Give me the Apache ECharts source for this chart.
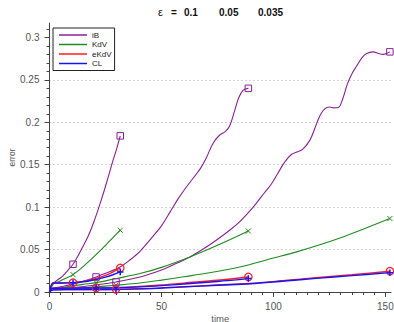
<!DOCTYPE html>
<html>
<head>
<meta charset="utf-8">
<script src="https://cdn.jsdelivr.net/npm/echarts@6/dist/echarts.min.js"></script>
<style>
  html, body { margin: 0; padding: 0; background: #fff; }
  #chart { width: 394px; height: 322px; }
</style>
</head>
<body>
<div id="chart"></div>
<script>
// Error vs. time for three values of epsilon (0.1, 0.05, 0.035), four models each.
// Each curve is a list of [time, error] samples.

// epsilon = 0.1
const iB_e010 = [[0,0],[0.5,0.003],[1.7,0.010],[4,0.015],[6,0.019],[8,0.025],[10.5,0.0327],[13,0.044],[15,0.054],[17.3,0.066],[20,0.084],[23.3,0.110],[25.5,0.129],[27.8,0.150],[30,0.169],[31.6,0.184]];
const KdV_e010 = [[0,0],[1.7,0.0095],[4,0.012],[7,0.016],[10.5,0.0205],[15,0.030],[20,0.042],[25,0.055],[31.6,0.0728]];
const eKdV_e010 = [[0,0],[1.7,0.0106],[5,0.0106],[10.5,0.011],[15,0.0125],[20.8,0.016],[25,0.0197],[28,0.0232],[31.6,0.0283]];
const CL_e010 = [[0,0],[1.7,0.0106],[5,0.0106],[10.5,0.011],[15,0.012],[20.8,0.0148],[25,0.0175],[28,0.020],[31.6,0.0236]];

// epsilon = 0.05
const iB_e005 = [[0,0],[1.5,0.004],[5,0.006],[10,0.009],[15,0.0125],[20.8,0.0177],[25,0.022],[31.5,0.0295],[36,0.038],[40.4,0.048],[46,0.065],[50,0.078],[54,0.095],[57.5,0.110],[61.2,0.124],[65,0.137],[67.5,0.146],[70,0.158],[73,0.175],[76,0.185],[78.5,0.189],[80.5,0.196],[82.5,0.212],[84.5,0.229],[86.5,0.238],[88.8,0.240]];
const KdV_e005 = [[0,0],[1.5,0.004],[5,0.005],[10,0.007],[15,0.009],[20.8,0.011],[30,0.016],[40.4,0.0217],[50,0.029],[62.7,0.0413],[75,0.055],[88.8,0.0719]];
const eKdV_e005 = [[0,0],[1.5,0.0045],[10,0.0046],[20.8,0.0047],[30,0.0052],[40.4,0.0065],[50,0.0082],[60,0.0105],[75,0.0138],[88.8,0.0177]];
const CL_e005 = [[0,0],[1.5,0.0045],[10,0.0046],[20.8,0.0047],[30,0.005],[40.4,0.006],[50,0.0075],[60,0.0094],[75,0.0124],[88.8,0.0158]];

// epsilon = 0.035
const iB_e0035 = [[0,0],[1.5,0.003],[10,0.005],[20,0.008],[29.7,0.0118],[40.4,0.0177],[50,0.026],[56,0.033],[62.7,0.0413],[70,0.053],[76,0.064],[81,0.074],[85,0.083],[89,0.094],[92.5,0.105],[96,0.117],[99,0.127],[102,0.140],[105,0.153],[108,0.162],[110.5,0.165],[113,0.168],[116.3,0.179],[118.5,0.193],[120.8,0.208],[123,0.216],[125,0.218],[127,0.217],[129,0.2175],[131,0.228],[133,0.245],[135,0.257],[137.1,0.266],[139.5,0.276],[141.6,0.281],[144.5,0.283],[147,0.281],[149,0.280],[152,0.283]];
const KdV_e0035 = [[0,0],[1.5,0.003],[10,0.004],[20,0.006],[29.7,0.008],[40.4,0.0106],[50,0.014],[60,0.018],[70,0.022],[85,0.0295],[100,0.040],[110,0.047],[120,0.055],[130,0.064],[140,0.074],[152,0.0866]];
const eKdV_e0035 = [[0,0],[1.5,0.0025],[10,0.0028],[20,0.003],[29.7,0.0031],[45,0.0042],[60,0.0062],[75,0.0082],[89.5,0.0101],[105,0.0135],[119,0.0168],[135,0.0203],[152,0.0245]];
const CL_e0035 = [[0,0],[1.5,0.0025],[10,0.0028],[20,0.003],[29.7,0.003],[45,0.004],[60,0.006],[75,0.0079],[89.5,0.0097],[105,0.013],[119,0.016],[135,0.0193],[152,0.0228]];

// times at which each epsilon run carries a marker
const markTimes_e010 = [10.5, 31.6];
const markTimes_e005 = [20.8, 88.8];
const markTimes_e0035 = [29.7, 152];

const modelNames = ['iB', 'KdV', 'eKdV', 'CL'];
const xTicks = [0, 50, 100, 150];
const yTicks = [0, 0.05, 0.1, 0.15, 0.2, 0.25, 0.3];
const epsLabels = ['0.1', '0.05', '0.035'];

const colors = { iB: '#8c1f98', KdV: '#1e8c1e', eKdV: '#ff1c1c', CL: '#1414ff' };
const curves = {
  iB:   [iB_e010, iB_e005, iB_e0035],
  KdV:  [KdV_e010, KdV_e005, KdV_e0035],
  eKdV: [eKdV_e010, eKdV_e005, eKdV_e0035],
  CL:   [CL_e010, CL_e005, CL_e0035]
};
const markTimes = [markTimes_e010, markTimes_e005, markTimes_e0035];

const markerStyle = {
  iB:   { symbol: 'rect', size: 6.5, width: 1 },
  KdV:  { symbol: 'path://M0,0L10,10M10,0L0,10', size: 5, width: 1 },
  eKdV: { symbol: 'circle', size: 7.5, width: 1.2 },
  CL:   { symbol: 'path://M5,0L5,10M0,5L10,5', size: 6.5, width: 1.5 }
};
const lineWidth = { iB: 1.1, KdV: 1.1, eKdV: 1.4, CL: 1.4 };

function pickMarks(curve, times) {
  return curve.filter(p => times.some(t => Math.abs(p[0] - t) < 1e-9));
}

const series = [];
modelNames.forEach(m => {
  curves[m].forEach(c => {
    series.push({
      type: 'line', name: m, data: c, symbol: 'none',
      smooth: 0.35,
      lineStyle: { color: colors[m], width: lineWidth[m] },
      itemStyle: { color: colors[m] },
      z: 2
    });
  });
});
modelNames.forEach(m => {
  const pts = [];
  curves[m].forEach((c, i) => pickMarks(c, markTimes[i]).forEach(p => pts.push(p)));
  series.push({
    type: 'scatter', name: m + ' marks', data: pts,
    symbol: markerStyle[m].symbol, symbolSize: markerStyle[m].size,
    itemStyle: { color: 'transparent', borderColor: colors[m], borderWidth: markerStyle[m].width, opacity: 1 },
    z: 4
  });
});

const titleX = [158, 171, 184, 219, 258];
const titleParts = ['ε', '='].concat(epsLabels);

const chart = echarts.init(document.getElementById('chart'), null, { renderer: 'svg' });
chart.setOption({
  animation: false,
  backgroundColor: '#fff',
  textStyle: { fontFamily: 'Liberation Sans, Arial, sans-serif' },
  graphic: titleParts.map((s, i) => ({
    type: 'text', x: titleX[i], y: 12,
    style: {
      text: s, verticalAlign: 'middle',
      font: (i === 0 ? 'normal 11px' : 'bold 10px') + ' "Liberation Sans", Arial, sans-serif',
      fill: '#111'
    }
  })),
  legend: {
    orient: 'vertical', left: 53, top: 28,
    padding: [3, 3, 3, 6], itemGap: 1.5, itemWidth: 28, itemHeight: 1.5,
    borderColor: '#222', borderWidth: 1, backgroundColor: '#fff',
    selectedMode: false,
    textStyle: { fontSize: 8, color: '#222' },
    data: modelNames.map(n => ({ name: n, icon: 'rect' }))
  },
  grid: { left: 49.5, right: 3, top: 23, bottom: 30, containLabel: false, outerBoundsMode: 'none' },
  xAxis: {
    type: 'value', min: 0, max: 152.5, interval: 50,
    name: 'time', nameLocation: 'middle', nameGap: 21, nameMoveOverlap: false,
    nameTextStyle: { fontSize: 9.5, color: '#555' },
    axisLine: { lineStyle: { color: '#444', width: 1 } },
    axisTick: { show: true, length: 5, lineStyle: { color: '#444' }, customValues: xTicks },
    minorTick: { show: true, splitNumber: 10, length: 3, lineStyle: { color: '#444' } },
    axisLabel: { color: '#555', fontSize: 10, margin: 9, customValues: xTicks },
    splitLine: { show: false }
  },
  yAxis: {
    type: 'value', min: 0, max: 0.317, interval: 0.05,
    name: 'error', nameLocation: 'middle', nameGap: 33, nameMoveOverlap: false,
    nameTextStyle: { fontSize: 8.5, color: '#555' },
    axisLine: { show: true, lineStyle: { color: '#444', width: 1 } },
    axisTick: { show: true, length: 5, lineStyle: { color: '#444' }, customValues: yTicks },
    minorTick: { show: true, splitNumber: 5, length: 3, lineStyle: { color: '#444' } },
    axisLabel: { color: '#555', fontSize: 10, margin: 10, customValues: yTicks },
    splitLine: { show: true, showMinLine: false, showMaxLine: false,
      lineStyle: { color: '#aaa', width: 1, type: [1, 3] } }
  },
  series: series
});
</script>
</body>
</html>
